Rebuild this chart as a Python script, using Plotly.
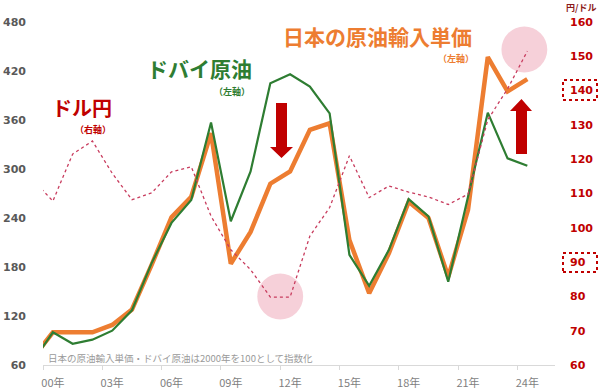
import plotly.graph_objects as go

years = list(range(1999, 2025))
dubai = [65, 100, 86, 91, 102, 127, 185, 234, 262, 357, 236, 297, 405, 416, 401,
         368, 195, 157, 201, 263, 242, 162, 266, 369, 313, 304]
japan_import = [69, 100, 100, 100, 109, 128, 183, 241, 266, 344, 184, 223, 282, 297, 348,
                356, 213, 148, 197, 260, 240, 168, 250, 437, 395, 410]
usdjpy = [113.9, 107.8, 121.5, 125.3, 115.9, 108.2, 110.2, 116.3, 117.8, 103.4, 93.6, 87.8,
          79.8, 79.8, 97.6, 105.9, 121.0, 108.8, 112.2, 110.4, 109.0, 106.8, 109.8, 131.5,
          140.5, 151.5]
xtick_vals = [2000, 2003, 2006, 2009, 2012, 2015, 2018, 2021, 2024]
xtick_text = ["00年", "03年", "06年", "09年", "12年", "15年", "18年", "21年", "24年"]
left_ticks = [60, 120, 180, 240, 300, 360, 420, 480]
right_ticks = [60, 70, 80, 90, 100, 110, 120, 130, 140, 150, 160]

ORANGE = "#ED7D31"
GREEN = "#2E7D32"
RED = "#C00000"
DOT = "#C83C5E"
JP = "Noto Sans CJK JP"

L, R, T, B, W, H = 43, 45, 22, 27, 600, 392
PW, PH = W - L - R, H - T - B


def px(x):
    return (x - L) / PW


def py(y):
    return (H - B - y) / PH


fig = go.Figure()
fig.add_trace(go.Scatter(x=years, y=usdjpy, yaxis="y2", mode="lines",
                         line=dict(color=DOT, width=1.3, dash="dot"), showlegend=False))
fig.add_trace(go.Scatter(x=years, y=japan_import, mode="lines",
                         line=dict(color=ORANGE, width=4.5), showlegend=False))
fig.add_trace(go.Scatter(x=years, y=dubai, mode="lines",
                         line=dict(color=GREEN, width=2.2), showlegend=False))

shapes = []
# pink circles
for (cx, cy) in [(2011.5, 80), (2023.85, 152)]:
    shapes.append(dict(type="circle", xref="x", yref="y2", layer="below",
                       x0=cx - 1.16, x1=cx + 1.16, y0=cy - 6.7, y1=cy + 6.7,
                       fillcolor="rgba(235,150,170,0.45)", line=dict(width=0)))
# down arrow
shapes.append(dict(type="path", xref="paper", yref="paper", fillcolor=RED, line=dict(width=0),
                   path=(f"M {px(276)} {py(103)} L {px(287)} {py(103)} L {px(287)} {py(147)} "
                         f"L {px(293)} {py(147)} L {px(281.5)} {py(158)} L {px(270)} {py(147)} "
                         f"L {px(276)} {py(147)} Z")))
# up arrow
shapes.append(dict(type="path", xref="paper", yref="paper", fillcolor=RED, line=dict(width=0),
                   path=(f"M {px(516)} {py(154)} L {px(527)} {py(154)} L {px(527)} {py(111)} "
                         f"L {px(532)} {py(111)} L {px(521.5)} {py(99)} L {px(510)} {py(111)} "
                         f"L {px(516)} {py(111)} Z")))
# dotted boxes around 140 and 90
for (y0, y1) in [(80, 100), (253, 272)]:
    shapes.append(dict(type="rect", xref="paper", yref="paper",
                       x0=px(563), x1=px(597), y0=py(y1), y1=py(y0),
                       line=dict(color=RED, width=2, dash="dot")))

ann = []


def text(x, y, s, size, color, anchor="center", bold=True):
    ann.append(dict(x=px(x), y=py(y), xref="paper", yref="paper", showarrow=False,
                    text=f"<b>{s}</b>" if bold else s, xanchor=anchor, yanchor="middle",
                    font=dict(family=JP, size=size, color=color)))


text(82, 107, "ドル円", 20, RED)
text(93, 129, "（右軸）", 9, RED)
text(199, 68, "ドバイ原油", 21, GREEN)
text(232, 91, "（左軸）", 9, GREEN)
text(377, 36, "日本の原油輸入単価", 21, ORANGE)
text(456, 59, "（左軸）", 9, ORANGE)
text(581, 7, "円/ドル", 9, "#8B1A1A")
text(46, 358, "日本の原油輸入単価・ドバイ原油は2000年を100として指数化", 9.5, "#9a9a9a",
     anchor="left", bold=False)

fig.update_layout(
    width=W, height=H, margin=dict(l=L, r=R, t=T, b=B, autoexpand=False),
    paper_bgcolor="white", plot_bgcolor="white", showlegend=False,
    shapes=shapes, annotations=ann,
    xaxis=dict(range=[1999.5, 2025.4], tickvals=xtick_vals, ticktext=xtick_text,
               ticks="", showgrid=False, zeroline=False, showline=True, automargin=False,
               linecolor="#d9d9d9", linewidth=1, ticklabelstandoff=8,
               tickfont=dict(family=JP, size=11, color="#7f7f7f"),
               minor=dict(tick0=1999.5, dtick=3, ticks="outside", ticklen=4,
                          tickcolor="#d9d9d9", showgrid=False)),
    yaxis=dict(range=[60, 480], tickvals=left_ticks, showgrid=False, zeroline=False,
               ticks="", ticklabelstandoff=16, automargin=False,
               tickfont=dict(family="DejaVu Sans", size=11, color="#595959", weight="bold")),
    yaxis2=dict(range=[60, 160], tickvals=right_ticks, overlaying="y", side="right",
                showgrid=False, zeroline=False, ticks="", ticklabelstandoff=14, automargin=False,
                tickfont=dict(family="DejaVu Sans", size=11, color=RED, weight="bold")),
)

fig.write_html("out.html")
